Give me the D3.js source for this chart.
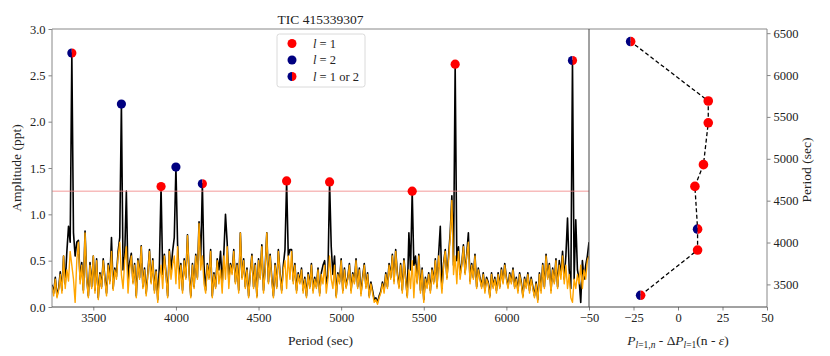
<!DOCTYPE html>
<html>
<head>
<meta charset="utf-8">
<script src="https://cdn.jsdelivr.net/npm/d3@7"></script>
<style>
  body { margin: 0; background: #fff; }
  svg text { font-family: "Liberation Serif", "DejaVu Serif", serif; fill: #222; }
</style>
</head>
<body>
<div id="chart"></div>
<script>
// spectrum grid: 3250 .. 6500 sec, every 10 sec
const periodStart = 3250, periodStep = 10;

// original amplitude spectrum (ppt)
const ampOriginal = [
  0.24, 0.15, 0.32, 0.12, 0.20, 0.38, 0.18, 0.55, 0.25, 0.60,
  0.87, 0.70, 2.74, 0.80, 0.55, 0.70, 0.72, 0.30, 0.48, 0.18,
  0.82, 0.32, 0.12, 0.48, 0.22, 0.55, 0.18, 0.52, 0.10, 0.37,
  0.22, 0.52, 0.32, 0.15, 0.47, 0.28, 0.75, 0.20, 0.42, 0.33,
  0.60, 0.75, 2.19, 0.40, 0.55, 1.25, 0.30, 0.48, 0.58, 0.27,
  0.47, 0.12, 0.52, 0.32, 0.66, 0.22, 0.42, 0.15, 0.37, 0.62,
  0.27, 0.52, 0.18, 0.40, 0.08, 0.45, 1.30, 0.35, 0.57, 0.37,
  0.12, 0.62, 0.40, 0.60, 0.75, 1.51, 0.68, 0.30, 0.47, 0.18,
  0.52, 0.32, 0.78, 0.37, 0.12, 0.47, 0.22, 0.57, 0.32, 0.92,
  0.50, 1.33, 0.45, 0.18, 0.47, 0.32, 0.62, 0.12, 0.37, 0.22,
  0.52, 0.40, 0.60, 0.25, 0.58, 1.00, 0.70, 0.30, 0.47, 0.37,
  0.62, 0.27, 0.47, 0.18, 0.80, 0.32, 0.52, 0.22, 0.42, 0.12,
  0.37, 0.57, 0.22, 0.47, 0.12, 0.52, 0.32, 0.67, 0.18, 0.42,
  0.80, 0.27, 0.57, 0.32, 0.12, 0.47, 0.22, 0.62, 0.37, 0.18,
  0.45, 0.62, 1.36, 0.55, 0.62, 0.62, 0.28, 0.47, 0.18, 0.37,
  0.27, 0.42, 0.18, 0.32, 0.12, 0.37, 0.22, 0.47, 0.18, 0.32,
  0.22, 0.42, 0.15, 0.37, 0.45, 0.50, 0.25, 0.35, 1.35, 0.65,
  0.35, 0.55, 0.12, 0.37, 0.27, 0.52, 0.18, 0.42, 0.22, 0.32,
  0.47, 0.18, 0.37, 0.27, 0.52, 0.22, 0.42, 0.15, 0.32, 0.47,
  0.22, 0.37, 0.12, 0.27, 0.18, 0.08, 0.10, 0.05, 0.12, 0.17,
  0.27, 0.18, 0.37, 0.22, 0.47, 0.32, 0.57, 0.28, 0.62, 0.37,
  0.22, 0.47, 0.18, 0.52, 0.32, 0.12, 0.80, 0.40, 1.25, 0.45,
  0.55, 0.27, 0.57, 0.18, 0.42, 0.08, 0.32, 0.22, 0.37, 0.18,
  0.42, 0.27, 0.52, 0.22, 0.57, 0.87, 0.20, 0.47, 0.62, 0.32,
  0.55, 0.80, 1.20, 0.45, 2.62, 0.50, 0.65, 0.35, 0.47, 0.67,
  0.37, 0.57, 0.80, 0.28, 0.47, 0.32, 0.57, 0.22, 0.42, 0.32,
  0.22, 0.37, 0.18, 0.32, 0.27, 0.12, 0.37, 0.22, 0.32, 0.18,
  0.37, 0.22, 0.42, 0.27, 0.47, 0.32, 0.22, 0.37, 0.27, 0.42,
  0.22, 0.32, 0.18, 0.37, 0.27, 0.12, 0.32, 0.22, 0.37, 0.18,
  0.32, 0.22, 0.12, 0.27, 0.08, 0.37, 0.18, 0.47, 0.22, 0.57,
  0.32, 0.47, 0.18, 0.42, 0.27, 0.52, 0.22, 0.50, 0.35, 0.60,
  0.30, 0.55, 0.96, 0.40, 0.20, 2.66, 0.30, 0.94, 0.40, 0.30,
  0.05, 0.50, 0.30, 0.45, 0.55, 0.70
];

// residual spectrum after prewhitening (ppt)
const ampResidual = [
  0.22, 0.12, 0.30, 0.10, 0.18, 0.35, 0.15, 0.55, 0.20, 0.40,
  0.28, 0.60, 0.45, 0.30, 0.05, 0.50, 0.70, 0.25, 0.45, 0.15,
  0.80, 0.30, 0.10, 0.45, 0.20, 0.55, 0.15, 0.50, 0.08, 0.35,
  0.20, 0.50, 0.30, 0.12, 0.45, 0.25, 0.60, 0.18, 0.40, 0.30,
  0.55, 0.70, 0.35, 0.20, 0.50, 0.65, 0.15, 0.40, 0.55, 0.25,
  0.45, 0.10, 0.50, 0.30, 0.65, 0.20, 0.40, 0.12, 0.35, 0.60,
  0.25, 0.50, 0.15, 0.38, 0.05, 0.30, 0.45, 0.20, 0.55, 0.35,
  0.10, 0.60, 0.30, 0.45, 0.55, 0.25, 0.65, 0.20, 0.45, 0.15,
  0.50, 0.30, 0.77, 0.35, 0.10, 0.45, 0.20, 0.55, 0.30, 0.90,
  0.40, 0.55, 0.25, 0.15, 0.45, 0.30, 0.60, 0.10, 0.35, 0.20,
  0.50, 0.25, 0.40, 0.15, 0.55, 0.30, 0.65, 0.20, 0.45, 0.35,
  0.60, 0.25, 0.45, 0.15, 0.80, 0.30, 0.50, 0.20, 0.40, 0.10,
  0.35, 0.55, 0.20, 0.45, 0.10, 0.50, 0.30, 0.65, 0.15, 0.40,
  0.80, 0.25, 0.55, 0.30, 0.10, 0.45, 0.20, 0.60, 0.35, 0.15,
  0.40, 0.50, 0.20, 0.55, 0.30, 0.60, 0.25, 0.45, 0.15, 0.35,
  0.25, 0.40, 0.15, 0.30, 0.10, 0.35, 0.20, 0.45, 0.15, 0.30,
  0.20, 0.40, 0.12, 0.35, 0.25, 0.45, 0.15, 0.30, 0.55, 0.30,
  0.20, 0.45, 0.10, 0.35, 0.25, 0.50, 0.15, 0.40, 0.20, 0.30,
  0.45, 0.15, 0.35, 0.25, 0.50, 0.20, 0.40, 0.12, 0.30, 0.45,
  0.20, 0.35, 0.10, 0.25, 0.15, 0.05, 0.08, 0.03, 0.10, 0.15,
  0.25, 0.15, 0.35, 0.20, 0.45, 0.30, 0.55, 0.25, 0.60, 0.35,
  0.20, 0.45, 0.15, 0.50, 0.30, 0.10, 0.40, 0.20, 0.50, 0.10,
  0.45, 0.25, 0.55, 0.15, 0.40, 0.05, 0.30, 0.20, 0.35, 0.15,
  0.40, 0.25, 0.50, 0.20, 0.55, 0.35, 0.15, 0.45, 0.60, 0.30,
  0.50, 0.75, 1.15, 0.35, 0.55, 0.25, 0.60, 0.30, 0.45, 0.65,
  0.35, 0.55, 0.70, 0.25, 0.45, 0.30, 0.55, 0.20, 0.40, 0.30,
  0.20, 0.35, 0.15, 0.30, 0.25, 0.10, 0.35, 0.20, 0.30, 0.15,
  0.35, 0.20, 0.40, 0.25, 0.45, 0.30, 0.20, 0.35, 0.25, 0.40,
  0.20, 0.30, 0.15, 0.35, 0.25, 0.10, 0.30, 0.20, 0.35, 0.15,
  0.30, 0.20, 0.10, 0.25, 0.05, 0.35, 0.15, 0.45, 0.20, 0.55,
  0.30, 0.45, 0.15, 0.40, 0.25, 0.50, 0.20, 0.45, 0.30, 0.55,
  0.25, 0.45, 0.20, 0.35, 0.10, 0.05, 0.30, 0.20, 0.35, 0.25,
  0.45, 0.20, 0.40, 0.30, 0.50, 0.55
];

// identified modes
const modePeriods = [3370, 3670, 3910, 4000, 4160, 4670, 4930, 5430, 5690, 6400];
const modeAmps    = [2.74, 2.19, 1.30, 1.51, 1.33, 1.36, 1.35, 1.25, 2.62, 2.66];
const modeEll     = ["12", "2", "1", "2", "12", "1", "1", "1", "1", "12"];

// l=1 sequence, residual from mean period spacing
const seqPeriods  = [3370, 3910, 4160, 4670, 4930, 5430, 5690, 6400];
const seqResidual = [-21, 11, 11, 9.5, 14.3, 17, 17, -26.6];
const seqEll      = ["12", "1", "12", "1", "1", "1", "1", "12"];

const threshold = 1.25;
const periodTicks = [3500, 4000, 4500, 5000, 5500, 6000];
const ampTicks = [0, 0.5, 1.0, 1.5, 2.0, 2.5, 3.0];
const residTicks = [-50, -25, 0, 25, 50];
const rightPeriodTicks = [3500, 4000, 4500, 5000, 5500, 6000, 6500];

const width = 830, height = 356;
const RED = "#ff0000", NAVY = "#000080";
const FONT = "'Liberation Serif', 'DejaVu Serif', serif";
const fmtMinus = d => String(d).replace("-", "\u2212");

const svg = d3.select("#chart").append("svg")
  .attr("width", width)
  .attr("height", height);

const x = d3.scaleLinear().domain([3250, 6500]).range([52, 589]);
const y = d3.scaleLinear().domain([0, 3]).range([307, 29]);
const xr = d3.scaleLinear().domain([-50, 50]).range([589, 767]);
const yr = d3.scaleLinear().domain([3230, 6550]).range([307, 29]);

svg.append("clipPath").attr("id", "leftclip")
  .append("rect")
  .attr("x", x.range()[0]).attr("y", y.range()[1])
  .attr("width", x.range()[1] - x.range()[0])
  .attr("height", y.range()[0] - y.range()[1]);

// markers
function marker(g, ell, r) {
  if (ell === "12") {
    g.append("path").attr("d", `M0,${-r}A${r},${r} 0 0 0 0,${r}Z`).attr("fill", NAVY);
    g.append("path").attr("d", `M0,${-r}A${r},${r} 0 0 1 0,${r}Z`).attr("fill", RED);
  } else {
    g.append("circle").attr("r", r).attr("fill", ell === "1" ? RED : NAVY);
  }
}

// Left panel: spectra
const plot = svg.append("g").attr("clip-path", "url(#leftclip)");

const line = d3.line()
  .x((d, i) => x(periodStart + i * periodStep))
  .y(d => y(d));

plot.append("path")
  .datum(ampOriginal)
  .attr("d", line)
  .attr("fill", "none")
  .attr("stroke", "#000")
  .attr("stroke-width", 1.6)
  .attr("stroke-linejoin", "round");

plot.append("path")
  .datum(ampResidual)
  .attr("d", line)
  .attr("fill", "none")
  .attr("stroke", "#ffa500")
  .attr("stroke-width", 1.4)
  .attr("stroke-linejoin", "round");

plot.append("line")
  .attr("x1", x.range()[0]).attr("x2", x.range()[1])
  .attr("y1", y(threshold)).attr("y2", y(threshold))
  .attr("stroke", "#f08080")
  .attr("stroke-width", 0.8);

modePeriods.forEach((p, i) => {
  const g = svg.append("g").attr("transform", `translate(${x(p)},${y(modeAmps[i])})`);
  marker(g, modeEll[i], 4.6);
});

// Right panel: period spacing residuals
const seqLine = d3.line()
  .x((d, i) => xr(seqResidual[i]))
  .y(d => yr(d));

svg.append("path")
  .datum(seqPeriods)
  .attr("d", seqLine)
  .attr("fill", "none")
  .attr("stroke", "#000")
  .attr("stroke-width", 1.3)
  .attr("stroke-dasharray", "4,2.5");

seqPeriods.forEach((p, i) => {
  const g = svg.append("g").attr("transform", `translate(${xr(seqResidual[i])},${yr(p)})`);
  marker(g, seqEll[i], 4.8);
});

// axes
function styleAxis(g) {
  g.attr("font-family", FONT).attr("font-size", 12.5);
  g.select(".domain").remove();
  g.selectAll(".tick line").attr("stroke", "#666").attr("stroke-width", 0.8);
  g.selectAll(".tick text").attr("font-family", FONT).attr("font-size", 12.5).attr("fill", "#222");
}

svg.append("g")
  .attr("transform", `translate(0,${y.range()[0]})`)
  .call(d3.axisBottom(x).tickValues(periodTicks).tickSize(3.5).tickPadding(3).tickFormat(d3.format("d")))
  .call(styleAxis);

svg.append("g")
  .attr("transform", `translate(${x.range()[0]},0)`)
  .call(d3.axisLeft(y).tickValues(ampTicks).tickSize(3.5).tickPadding(3).tickFormat(d3.format(".1f")))
  .call(styleAxis);

svg.append("g")
  .attr("transform", `translate(0,${y.range()[0]})`)
  .call(d3.axisBottom(xr).tickValues(residTicks).tickSize(3.5).tickPadding(3).tickFormat(fmtMinus))
  .call(styleAxis);

svg.append("g")
  .attr("transform", `translate(${xr.range()[1]},0)`)
  .call(d3.axisRight(yr).tickValues(rightPeriodTicks).tickSize(3.5).tickPadding(3).tickFormat(d3.format("d")))
  .call(styleAxis);

// spines
const spine = (x1, y1, x2, y2, c) => svg.append("line")
  .attr("x1", x1).attr("y1", y1).attr("x2", x2).attr("y2", y2)
  .attr("stroke", c).attr("stroke-width", 1);
spine(52, 29, 767, 29, "#888");
spine(52, 29, 52, 307, "#888");
spine(767, 29, 767, 307, "#888");
spine(52, 307, 767, 307, "#444");
spine(589, 29, 589, 307, "#444");

// legend
const legend = svg.append("g").attr("transform", "translate(277,34)");
legend.append("rect")
  .attr("width", 88).attr("height", 53)
  .attr("rx", 2.5)
  .attr("fill", "#fff").attr("fill-opacity", 0.85)
  .attr("stroke", "#d0d0d0").attr("stroke-width", 0.8);

const legendItems = [["1", "1"], ["2", "2"], ["12", "1 or 2"]];
legendItems.forEach(([ell, label], i) => {
  const g = legend.append("g").attr("transform", `translate(15,${9.5 + i * 16.5})`);
  marker(g, ell, 4.5);
  const t = legend.append("text")
    .attr("x", 36).attr("y", 9.5 + i * 16.5 + 4.3)
    .attr("font-size", 12.5);
  t.append("tspan").attr("font-style", "italic").text("l");
  t.append("tspan").text(" = " + label);
});

// titles and labels
svg.append("text")
  .attr("x", (x.range()[0] + x.range()[1]) / 2).attr("y", 24)
  .attr("text-anchor", "middle").attr("font-size", 13.5)
  .text("TIC 415339307");

svg.append("text")
  .attr("x", (x.range()[0] + x.range()[1]) / 2).attr("y", 345)
  .attr("text-anchor", "middle").attr("font-size", 13.5)
  .text("Period (sec)");

svg.append("text")
  .attr("transform", "translate(21,168) rotate(-90)")
  .attr("text-anchor", "middle").attr("font-size", 13.5)
  .text("Amplitude (ppt)");

svg.append("text")
  .attr("transform", "translate(811,170) rotate(-90)")
  .attr("text-anchor", "middle").attr("font-size", 13.5)
  .text("Period (sec)");

const rl = svg.append("text")
  .attr("x", 678).attr("y", 345)
  .attr("text-anchor", "middle").attr("font-size", 13.5);
rl.append("tspan").attr("font-style", "italic").text("P");
rl.append("tspan").attr("font-size", 9.5).attr("dy", 3).attr("font-style", "italic").text("l");
rl.append("tspan").attr("font-size", 9.5).text("=1,");
rl.append("tspan").attr("font-size", 9.5).attr("font-style", "italic").text("n");
rl.append("tspan").attr("dy", -3).text(" - \u0394");
rl.append("tspan").attr("font-style", "italic").text("P");
rl.append("tspan").attr("font-size", 9.5).attr("dy", 3).attr("font-style", "italic").text("l");
rl.append("tspan").attr("font-size", 9.5).text("=1");
rl.append("tspan").attr("dy", -3).text("(n - ");
rl.append("tspan").attr("font-style", "italic").text("\u03b5");
rl.append("tspan").text(")");
</script>
</body>
</html>
